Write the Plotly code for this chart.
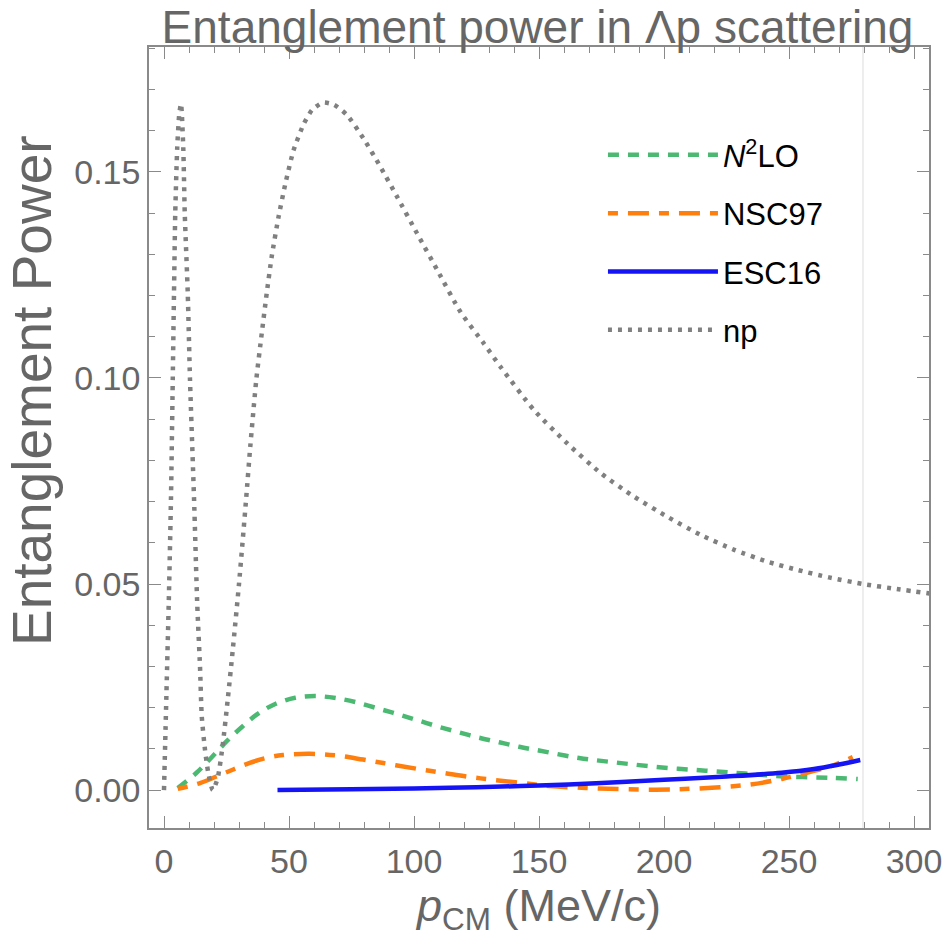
import plotly.graph_objects as go

# ---------------- data ----------------
np_x = [0, 1.0, 2.0, 2.8, 3.5, 4.0, 4.5, 5.3, 6.1, 6.8, 7.7, 8.3, 9.5, 10.4, 12.0,
        13.3, 14.4, 15.1, 16.4, 17.7, 19.5, 21.5, 23.5, 25.5, 27.5, 30.0, 32.9,
        34.5, 36.9, 39.1, 41.1, 43.1, 45.8, 48.5, 51.8, 55.8, 59.2, 63.5, 68.0,
        73.2, 79.9, 86.5, 93.2, 101.2, 109.3, 118.6, 127.9, 134.6, 148.0, 161.3,
        174.7, 188.0, 201.4, 214.7, 228.1, 241.5, 253.5, 266.0, 279.6, 293.0, 310.0]
np_y = [0.0, 0.024, 0.048, 0.071, 0.0995, 0.1206, 0.140, 0.156, 0.164, 0.1665,
        0.156, 0.140, 0.1206, 0.0995, 0.071, 0.045, 0.030, 0.0179, 0.0098, 0.0042,
        0.0, 0.003, 0.011, 0.022, 0.034, 0.050, 0.071, 0.0833, 0.0995, 0.1108,
        0.1206, 0.1295, 0.139, 0.147, 0.1552, 0.1615, 0.1650, 0.1668, 0.1663,
        0.1638, 0.1580, 0.1513, 0.1440, 0.1351, 0.1262, 0.1160, 0.1084, 0.1027,
        0.0922, 0.0841, 0.0769, 0.0712, 0.0663, 0.0619, 0.0583, 0.0554, 0.0534,
        0.0516, 0.0500, 0.0488, 0.0474]

n2lo_x = [5.5, 13.0, 19.0, 25.0, 31.5, 37.5, 44.5, 52.5, 61.0, 68.9, 76.9, 86.2,
          94.2, 102.2, 110.2, 118.1, 126.1, 134.1, 142.1, 150.0, 166.0, 182.0,
          199.2, 216.6, 232.6, 248.5, 265.8, 277.5]
n2lo_y = [0.0005, 0.0042, 0.0079, 0.0118, 0.0155, 0.0185, 0.0209, 0.0224, 0.0228,
          0.0223, 0.0213, 0.0197, 0.0183, 0.0168, 0.0153, 0.0140, 0.0127, 0.0116,
          0.0105, 0.0096, 0.0078, 0.0066, 0.0055, 0.0047, 0.0040, 0.0033, 0.0030,
          0.0027]

nsc97_x = [5.5, 14.4, 21.0, 27.7, 34.3, 41.0, 47.6, 58.3, 68.9, 79.6, 90.2, 100.8,
           111.5, 122.1, 132.8, 143.4, 154.0, 174.0, 196.6, 213.9, 233.8, 247.1,
           257.8, 267.1, 275.5]
nsc97_y = [0.0003, 0.0017, 0.0033, 0.0050, 0.0066, 0.0078, 0.0085, 0.0088, 0.0084,
           0.0074, 0.0063, 0.0052, 0.0042, 0.0032, 0.0024, 0.0017, 0.0010, 0.0004,
           0.0001, 0.0004, 0.0013, 0.0027, 0.0043, 0.0059, 0.0080]

esc16_x = [45.4, 75.0, 100.0, 125.0, 150.0, 175.0, 200.0, 225.0, 247.0, 260.0,
           270.0, 278.5]
esc16_y = [0.0, 0.0002, 0.0004, 0.0007, 0.0011, 0.0017, 0.0025, 0.0033, 0.0042,
           0.0051, 0.0062, 0.0073]

cutoff_x = 279.6
x_range = [-6, 306]
y_range = [-0.0092, 0.1803]

# ---------------- figure ----------------
FONT = "Liberation Sans, Arial, Helvetica, sans-serif"
GRAY = "#666666"
FRAME = "#8a8a8a"
W = 4.5

fig = go.Figure()

fig.add_trace(go.Scatter(
    x=n2lo_x, y=n2lo_y, mode="lines", name="<i>N</i><sup>2</sup>LO",
    legendgroup="a",
    line=dict(color="rgb(76,185,115)", width=W, dash="11px,9px", shape="spline")))
fig.add_trace(go.Scatter(
    x=nsc97_x, y=nsc97_y, mode="lines", name="NSC97", legendgroup="b",
    line=dict(color="rgb(255,127,14)", width=W, dash="10px,10px,21px,10px",
              shape="spline")))
fig.add_trace(go.Scatter(
    x=esc16_x, y=esc16_y, mode="lines", name="ESC16", legendgroup="c",
    line=dict(color="rgb(20,20,245)", width=W, shape="spline")))
fig.add_trace(go.Scatter(
    x=np_x, y=np_y, mode="lines", name="np", legendgroup="d",
    line=dict(color="rgb(128,128,128)", width=W, dash="4px,6px", shape="spline",
              smoothing=0.6)))

fig.add_shape(type="line", xref="x", yref="paper", x0=cutoff_x, x1=cutoff_x,
              y0=0, y1=1, line=dict(color="#e2e2e2", width=1.2), layer="below")

axis_common = dict(
    showline=True, linecolor=FRAME, linewidth=1.5, mirror="ticks",
    ticks="inside", ticklen=12, tickwidth=1.2, tickcolor=FRAME,
    showgrid=False, zeroline=False,
    tickfont=dict(family=FONT, size=34, color=GRAY),
    ticklabeloverflow="allow",
)

fig.update_xaxes(
    range=x_range, tick0=0, dtick=50,
    minor=dict(dtick=10, ticks="inside", ticklen=6, tickwidth=1, tickcolor=FRAME),
    title=dict(text="<i>p</i><sub>CM</sub> (MeV/c)",
               font=dict(family=FONT, size=45, color=GRAY), standoff=8),
    ticklabelstandoff=2,
    **axis_common)
fig.update_yaxes(
    range=y_range, tick0=0, dtick=0.05, tickformat=".2f",
    minor=dict(dtick=0.01, ticks="inside", ticklen=6, tickwidth=1, tickcolor=FRAME),
    **axis_common)

fig.add_annotation(
    text="Entanglement Power", textangle=-90,
    xref="paper", yref="paper", x=-0.150, y=0.5595,
    xanchor="center", yanchor="middle", showarrow=False,
    font=dict(family=FONT, size=55, color=GRAY))

fig.update_layout(
    width=942, height=943,
    margin=dict(l=149, r=13, t=47, b=115, autoexpand=False),
    plot_bgcolor="white", paper_bgcolor="white",
    title=dict(text="Entanglement power in Λp scattering",
               font=dict(family=FONT, size=46, color=GRAY),
               x=0.5706, xanchor="center", xref="container",
               y=0.972, yanchor="middle", yref="container"),
    legend=dict(
        x=0.582, y=0.896, xanchor="left", yanchor="top",
        font=dict(family=FONT, size=31, color="black"),
        bgcolor="rgba(0,0,0,0)", itemwidth=110, tracegroupgap=15,
        traceorder="grouped"),
    showlegend=True,
)

fig.write_html("out.html")
